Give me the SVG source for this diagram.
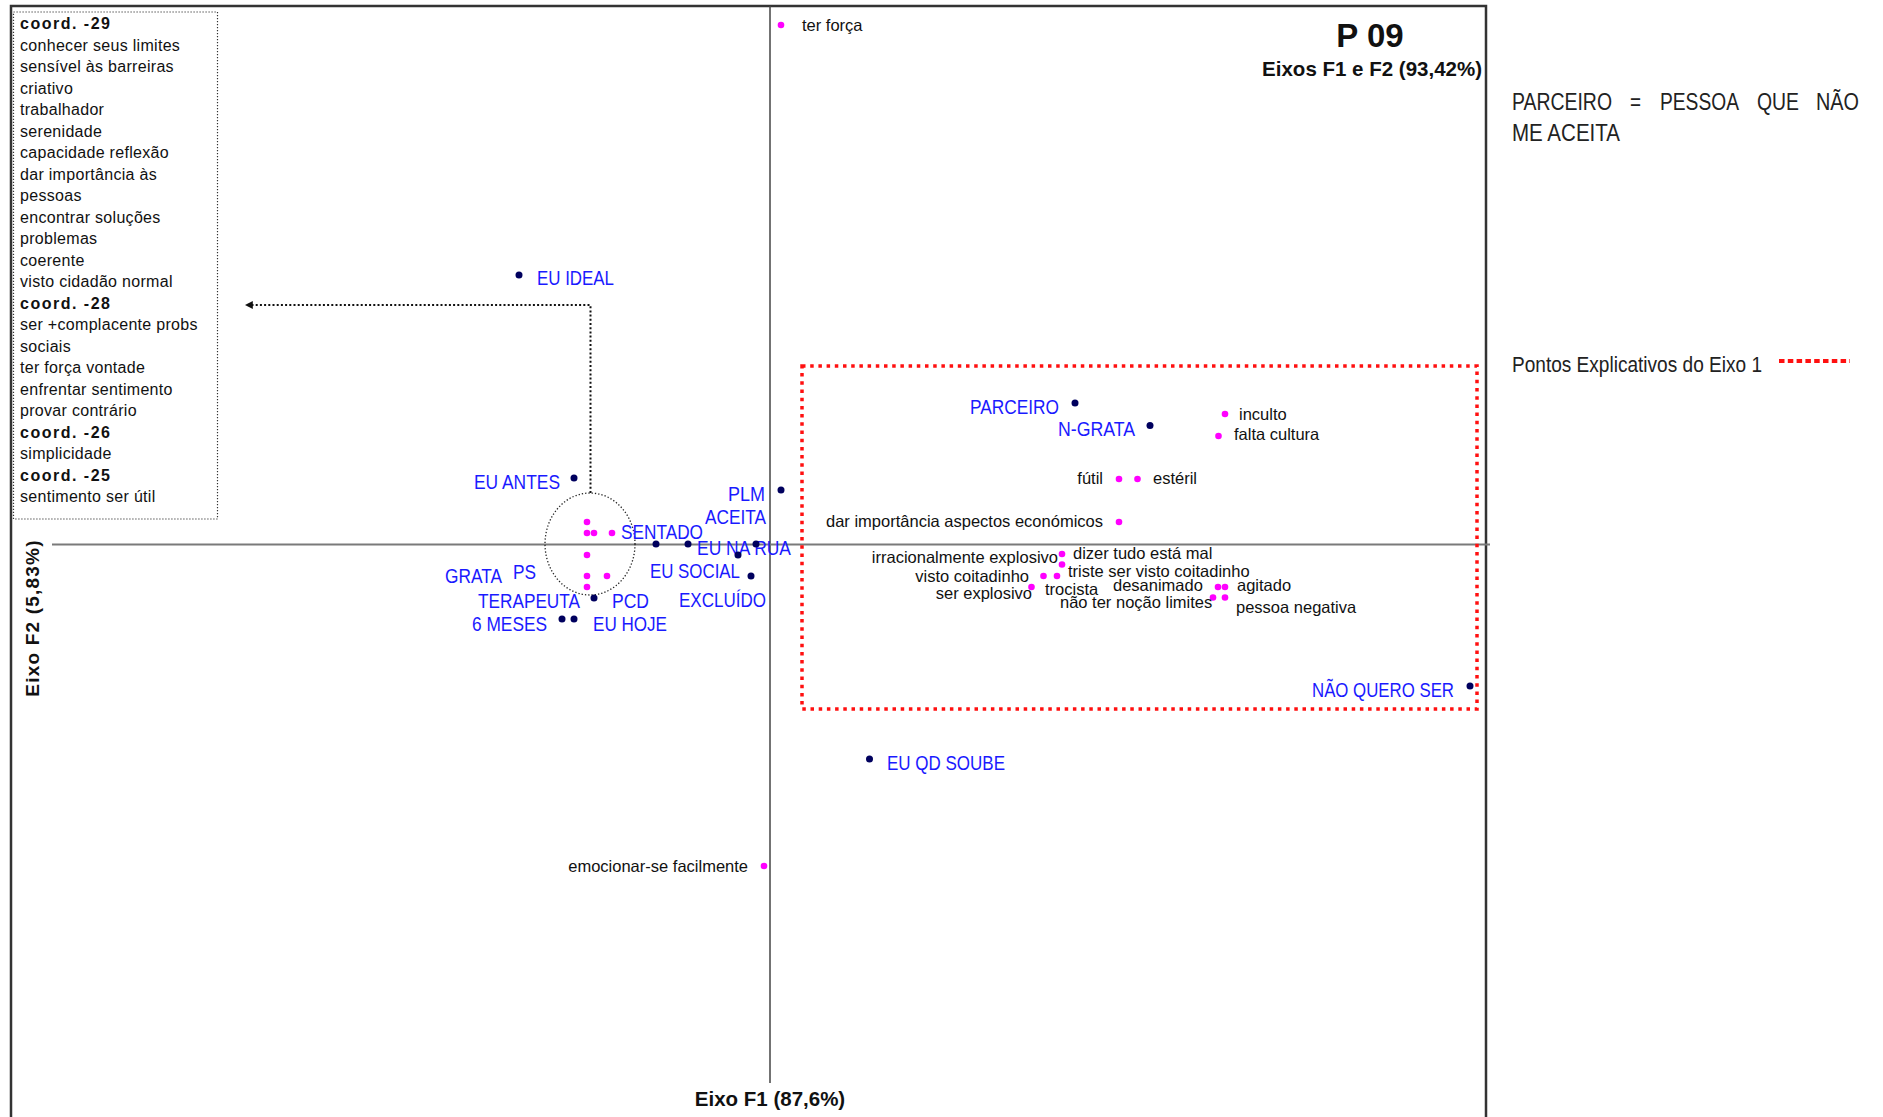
<svg xmlns="http://www.w3.org/2000/svg" width="1883" height="1117" viewBox="0 0 1883 1117">
<defs>
<style>
.nv{fill:#00005e}
.mg{fill:#ff00ff}
.bl{font-family:"Liberation Sans",Arial,sans-serif;font-size:21px;fill:#1a1aff}
.bk{font-family:"Liberation Sans",Arial,sans-serif;font-size:16.5px;fill:#111}
.bx{font-family:"Liberation Sans",Arial,sans-serif;font-size:16px;letter-spacing:0.3px;fill:#111}
.bxb{font-family:"Liberation Sans",Arial,sans-serif;font-size:16px;font-weight:bold;letter-spacing:1.5px;fill:#111}
.ttl{font-family:"Liberation Sans",Arial,sans-serif;font-weight:bold;fill:#111}
.nar{font-family:"Liberation Sans",Arial,sans-serif;fill:#222}
.e{text-anchor:end}
</style>
<marker id="arr" viewBox="0 0 10 10" refX="1" refY="5" markerWidth="8" markerHeight="8" markerUnits="userSpaceOnUse" orient="auto-start-reverse">
<path d="M0,0 L10,5 L0,10 z" fill="#111"/>
</marker>
</defs>
<rect width="1883" height="1117" fill="#fff"/>

<g id="frame">
<path d="M11,1117 V6 H1486 V1117" fill="none" stroke="#333" stroke-width="2.5"/>
<line x1="770" y1="6" x2="770" y2="1083" stroke="#444" stroke-width="1.5"/>
<line x1="52" y1="544.5" x2="1490" y2="544.5" stroke="#7a7a7a" stroke-width="2"/>
</g>

<g id="titles">
<text class="ttl" x="1370" y="47" font-size="33" text-anchor="middle">P 09</text>
<text class="ttl e" x="1482" y="76" font-size="20.5">Eixos F1 e F2 (93,42%)</text>
<text class="ttl" x="770" y="1106" font-size="20.5" text-anchor="middle">Eixo F1 (87,6%)</text>
<text class="ttl" transform="translate(39,618) rotate(-90)" font-size="19" letter-spacing="1.2" text-anchor="middle">Eixo F2 (5,83%)</text>
</g>

<g id="note">
<text class="nar" font-size="24" x="1512" y="110" textLength="100" lengthAdjust="spacingAndGlyphs">PARCEIRO</text>
<text class="nar" font-size="24" x="1630" y="110" textLength="11" lengthAdjust="spacingAndGlyphs">=</text>
<text class="nar" font-size="24" x="1660" y="110" textLength="79" lengthAdjust="spacingAndGlyphs">PESSOA</text>
<text class="nar" font-size="24" x="1757" y="110" textLength="42" lengthAdjust="spacingAndGlyphs">QUE</text>
<text class="nar" font-size="24" x="1816" y="110" textLength="43" lengthAdjust="spacingAndGlyphs">NÃO</text>
<text class="nar" font-size="24" x="1512" y="141" textLength="108" lengthAdjust="spacingAndGlyphs">ME ACEITA</text>
</g>

<g id="legend">
<text class="nar" font-size="22" x="1512" y="372" textLength="250" lengthAdjust="spacingAndGlyphs">Pontos Explicativos do Eixo 1</text>
<line x1="1779" y1="361" x2="1850" y2="361" stroke="#ff1010" stroke-width="4" stroke-dasharray="5.5 3.3"/>
</g>

<g id="coord-box">
<rect x="13.5" y="12" width="204" height="507" fill="none" stroke="#333" stroke-width="1.2" stroke-dasharray="1.2 1.8"/>
<text class="bxb" x="20" y="29">coord. -29</text>
<text class="bx" x="20" y="50.5">conhecer seus limites</text>
<text class="bx" x="20" y="72">sensível às barreiras</text>
<text class="bx" x="20" y="93.5">criativo</text>
<text class="bx" x="20" y="115">trabalhador</text>
<text class="bx" x="20" y="136.5">serenidade</text>
<text class="bx" x="20" y="158">capacidade reflexão</text>
<text class="bx" x="20" y="179.5">dar importância às</text>
<text class="bx" x="20" y="201">pessoas</text>
<text class="bx" x="20" y="222.5">encontrar soluções</text>
<text class="bx" x="20" y="244">problemas</text>
<text class="bx" x="20" y="265.5">coerente</text>
<text class="bx" x="20" y="287">visto cidadão normal</text>
<text class="bxb" x="20" y="308.5">coord. -28</text>
<text class="bx" x="20" y="330">ser +complacente probs</text>
<text class="bx" x="20" y="351.5">sociais</text>
<text class="bx" x="20" y="373">ter força vontade</text>
<text class="bx" x="20" y="394.5">enfrentar sentimento</text>
<text class="bx" x="20" y="416">provar contrário</text>
<text class="bxb" x="20" y="437.5">coord. -26</text>
<text class="bx" x="20" y="459">simplicidade</text>
<text class="bxb" x="20" y="480.5">coord. -25</text>
<text class="bx" x="20" y="502">sentimento ser útil</text>
</g>

<g id="cluster">
<ellipse cx="590" cy="544" rx="45" ry="51" fill="none" stroke="#222" stroke-width="1.3" stroke-dasharray="1.3 2"/>
</g>

<g id="explicative-box">
<rect x="802" y="366" width="675" height="343" fill="none" stroke="#ff1010" stroke-width="3.5" stroke-dasharray="3.5 4.7"/>
</g>

<g id="connectors">
<path d="M590.5,493 V305 H252" fill="none" stroke="#111" stroke-width="2" stroke-dasharray="2 2.2" marker-end="url(#arr)"/>
</g>

<g id="n-eu-ideal"><circle class="nv" cx="519" cy="275" r="3.5"/><text class="bl" x="537" y="285" textLength="77" lengthAdjust="spacingAndGlyphs">EU IDEAL</text></g>
<g id="n-eu-antes"><circle class="nv" cx="574" cy="478" r="3.5"/><text class="bl e" x="560" y="489" textLength="86" lengthAdjust="spacingAndGlyphs">EU ANTES</text></g>
<g id="n-sentado"><circle class="nv" cx="656" cy="544" r="3.5"/><text class="bl" x="621" y="539" textLength="82" lengthAdjust="spacingAndGlyphs">SENTADO</text></g>
<g id="n-eu-na-rua"><circle class="nv" cx="688" cy="544" r="3.5"/><text class="bl" x="697" y="555" textLength="94" lengthAdjust="spacingAndGlyphs">EU NA RUA</text></g>
<g id="n-aceita"><circle class="nv" cx="756" cy="544" r="3.5"/><text class="bl e" x="766" y="524" textLength="61" lengthAdjust="spacingAndGlyphs">ACEITA</text></g>
<g id="n-eu-social"><circle class="nv" cx="738" cy="555" r="3.5"/><text class="bl" x="650" y="578" textLength="90" lengthAdjust="spacingAndGlyphs">EU SOCIAL</text></g>
<g id="n-excluido"><circle class="nv" cx="751" cy="576" r="3.5"/><text class="bl" x="679" y="607" textLength="87" lengthAdjust="spacingAndGlyphs">EXCLUÍDO</text></g>
<g id="n-plm"><circle class="nv" cx="781" cy="490" r="3.5"/><text class="bl e" x="765" y="501" textLength="37" lengthAdjust="spacingAndGlyphs">PLM</text></g>
<g id="n-grata"><text class="bl" x="445" y="583" textLength="57" lengthAdjust="spacingAndGlyphs">GRATA</text></g>
<g id="n-ps"><text class="bl" x="513" y="579" textLength="23" lengthAdjust="spacingAndGlyphs">PS</text></g>
<g id="n-terapeuta"><text class="bl e" x="580" y="608" textLength="102" lengthAdjust="spacingAndGlyphs">TERAPEUTA</text></g>
<g id="n-pcd"><circle class="nv" cx="594" cy="598" r="3.5"/><text class="bl" x="612" y="608" textLength="37" lengthAdjust="spacingAndGlyphs">PCD</text></g>
<g id="n-6-meses"><circle class="nv" cx="562" cy="619" r="3.5"/><text class="bl e" x="547" y="631" textLength="75" lengthAdjust="spacingAndGlyphs">6 MESES</text></g>
<g id="n-eu-hoje"><circle class="nv" cx="574" cy="619" r="3.5"/><text class="bl" x="593" y="631" textLength="74" lengthAdjust="spacingAndGlyphs">EU HOJE</text></g>
<g id="n-parceiro"><circle class="nv" cx="1075" cy="403" r="3.5"/><text class="bl e" x="1059" y="414" textLength="89" lengthAdjust="spacingAndGlyphs">PARCEIRO</text></g>
<g id="n-n-grata"><circle class="nv" cx="1150" cy="425.5" r="3.5"/><text class="bl e" x="1135" y="436" textLength="77" lengthAdjust="spacingAndGlyphs">N-GRATA</text></g>
<g id="n-nao-quero-ser"><circle class="nv" cx="1470" cy="686" r="3.5"/><text class="bl e" x="1454" y="697" textLength="142" lengthAdjust="spacingAndGlyphs">NÃO QUERO SER</text></g>
<g id="n-eu-qd-soube"><circle class="nv" cx="869.5" cy="759" r="3.5"/><text class="bl" x="887" y="770" textLength="118" lengthAdjust="spacingAndGlyphs">EU QD SOUBE</text></g>

<g id="m-cluster">
<circle class="mg" cx="587" cy="522" r="3.3"/>
<circle class="mg" cx="587" cy="533" r="3.3"/>
<circle class="mg" cx="594" cy="533" r="3.3"/>
<circle class="mg" cx="612" cy="533" r="3.3"/>
<circle class="mg" cx="587" cy="555" r="3.3"/>
<circle class="mg" cx="587" cy="576" r="3.3"/>
<circle class="mg" cx="607" cy="576" r="3.3"/>
<circle class="mg" cx="587" cy="587" r="3.3"/>
</g>
<g id="m-ter-forca"><circle class="mg" cx="781" cy="25" r="3.3"/><text class="bk" x="802" y="31">ter força</text></g>
<g id="m-emocionar"><circle class="mg" cx="764" cy="866" r="3.3"/><text class="bk e" x="748" y="872">emocionar-se facilmente</text></g>
<g id="m-inculto"><circle class="mg" cx="1225" cy="414" r="3.3"/><text class="bk" x="1239" y="420">inculto</text></g>
<g id="m-falta-cultura"><circle class="mg" cx="1218.5" cy="436" r="3.3"/><text class="bk" x="1234" y="440">falta cultura</text></g>
<g id="m-futil"><circle class="mg" cx="1119" cy="479" r="3.3"/><text class="bk e" x="1103" y="484">fútil</text></g>
<g id="m-esteril"><circle class="mg" cx="1137.5" cy="479" r="3.3"/><text class="bk" x="1153" y="484">estéril</text></g>
<g id="m-dar-importancia"><circle class="mg" cx="1119" cy="522" r="3.3"/><text class="bk e" x="1103" y="527">dar importância aspectos económicos</text></g>
<g id="m-irracionalmente"><circle class="mg" cx="1062" cy="554" r="3.3"/><text class="bk e" x="1058" y="563">irracionalmente explosivo</text></g>
<g id="m-dizer-tudo"><circle class="mg" cx="1062" cy="564.5" r="3.3"/><text class="bk" x="1073" y="559">dizer tudo está mal</text></g>
<g id="m-visto-coitadinho"><circle class="mg" cx="1043.5" cy="576" r="3.3"/><text class="bk e" x="1029" y="582">visto coitadinho</text></g>
<g id="m-triste"><circle class="mg" cx="1057" cy="576" r="3.3"/><text class="bk" x="1068" y="577">triste ser visto coitadinho</text></g>
<g id="m-ser-explosivo"><circle class="mg" cx="1031.5" cy="587" r="3.3"/><text class="bk e" x="1032" y="599">ser explosivo</text></g>
<g id="m-trocista"><text class="bk" x="1045" y="595">trocista</text></g>
<g id="m-desanimado"><circle class="mg" cx="1218" cy="587" r="3.3"/><text class="bk" x="1113" y="591">desanimado</text></g>
<g id="m-agitado"><circle class="mg" cx="1225" cy="587" r="3.3"/><text class="bk" x="1237" y="591">agitado</text></g>
<g id="m-nao-ter-nocao"><circle class="mg" cx="1213" cy="597.5" r="3.3"/><text class="bk" x="1060" y="608">não ter noção limites</text></g>
<g id="m-pessoa-negativa"><circle class="mg" cx="1225" cy="597.5" r="3.3"/><text class="bk" x="1236" y="613">pessoa negativa</text></g>
</svg>
